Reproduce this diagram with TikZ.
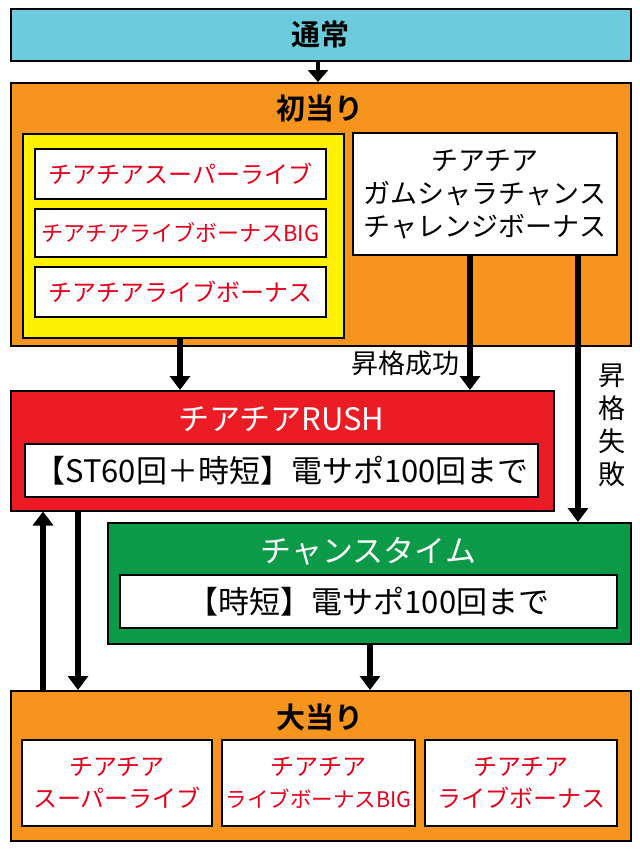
\documentclass[tikz,border=0pt]{standalone}
\usepackage{fontspec}
\setmainfont{Noto Sans CJK JP}[BoldFont=Noto Sans CJK JP Bold]
\usetikzlibrary{arrows.meta}
\definecolor{skyblue}{HTML}{6CCBDC}
\definecolor{orng}{HTML}{F7941D}
\definecolor{yel}{HTML}{FFF100}
\definecolor{rushred}{HTML}{EC1C24}
\definecolor{grn}{HTML}{0B9A48}
\definecolor{txtred}{HTML}{E3001B}
\tikzset{
    panel/.style={draw, line width=1.5pt, anchor=north west, inner sep=0pt},
    card/.style={draw, line width=1.2pt, fill=white, align=center, inner sep=0pt},
    title/.style={font=\fontsize{29}{32}\selectfont\bfseries},
    redtxt/.style={text=txtred, font=\fontsize{24}{32}\selectfont},
    blktxt/.style={font=\fontsize{27}{33}\selectfont},
    arr/.style={line width=6pt, -{Triangle[length=14pt, width=20pt]}}
}
\begin{document}
\begin{tikzpicture}[x=1pt, y=-1pt]
    \useasboundingbox (0,0) rectangle (640,852);
    % panels
    \node[panel, fill=skyblue, minimum width=620pt, minimum height=52pt] (normal) at (10,8) {};
    \node[title] at (320,34) {通常};
    \node[panel, fill=orng, minimum width=620pt, minimum height=263pt] (first) at (10,82) {};
    \node[title] at (320,108) {初当り};
    \node[panel, fill=yel, minimum width=321pt, minimum height=204pt] (yelbox) at (22,133) {};
    \node[card, redtxt, minimum width=291pt, minimum height=50pt] (f1) at (180.5,174) {チアチアスーパーライブ};
    \node[card, redtxt, minimum width=291pt, minimum height=48pt] (f2) at (180.5,233) {\fontsize{22}{26}\selectfont チアチアライブボーナスBIG};
    \node[card, redtxt, minimum width=291pt, minimum height=50pt] (f3) at (180.5,292) {チアチアライブボーナス};
    \node[card, blktxt, minimum width=264pt, minimum height=122pt] (gcc) at (485,194)
        {チアチア\\ガムシャラチャンス\\チャレンジボーナス};
    \node[panel, fill=rushred, minimum width=543pt, minimum height=120pt] (rush) at (10,390) {};
    \node[title, text=white, font=\fontsize{31}{33}\selectfont] at (281.5,419) {チアチアRUSH};
    \node[card, blktxt, minimum width=513pt, minimum height=53pt] (rushin) at (281.5,470.5)
        {\fontsize{31}{33}\selectfont【ST60回＋時短】電サポ100回まで};
    \node[panel, fill=grn, minimum width=523pt, minimum height=121pt] (chance) at (107,522) {};
    \node[title, text=white, font=\fontsize{31}{33}\selectfont] at (368.5,551) {チャンスタイム};
    \node[card, blktxt, minimum width=497pt, minimum height=53pt] (chancein) at (368.5,601.5)
        {\fontsize{31}{33}\selectfont【時短】電サポ100回まで};
    \node[panel, fill=orng, minimum width=620pt, minimum height=150pt] (hit) at (10,690) {};
    \node[title] at (320,717) {大当り};
    \node[card, redtxt, minimum width=190pt, minimum height=86pt] (h1) at (117,783) {チアチア\\スーパーライブ};
    \node[card, redtxt, minimum width=193pt, minimum height=86pt] (h2) at (318.5,783) {チアチア\\\fontsize{21.5}{26}\selectfont ライブボーナスBIG};
    \node[card, redtxt, minimum width=192pt, minimum height=86pt] (h3) at (521,783) {チアチア\\ライブボーナス};
    % arrows
    \draw[arr, line width=4pt, -{Triangle[length=12pt, width=20pt]}] (normal.south -| 318,0) -- (first.north -| 318,0);
    \draw[arr] (yelbox.south -| 180,0) -- (rush.north -| 180,0);
    \draw[arr] (gcc.south -| 470,0) -- node[left=4pt, pos=0.8, blktxt] {昇格成功} (rush.north -| 470,0);
    \draw[arr] (gcc.south -| 578,0) -- (chance.north -| 578,0);
    \node[blktxt, align=center] (fail) at (612,425) {昇\\格\\失\\敗};
    \draw[arr] (chance.south -| 370,0) -- (hit.north -| 370,0);
    \draw[arr] (hit.north -| 43,0) -- (rush.south -| 43,0);
    \draw[arr] (rush.south -| 78,0) -- (hit.north -| 78,0);
\end{tikzpicture}
\end{document}
